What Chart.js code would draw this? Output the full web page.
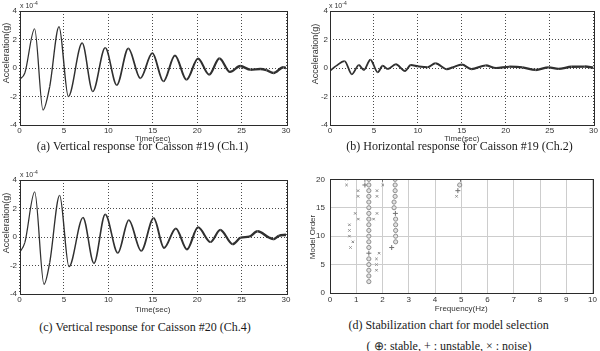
<!DOCTYPE html>
<html>
<head>
<meta charset="utf-8">
<script src="https://cdn.jsdelivr.net/npm/chart.js@4.4.0/dist/chart.umd.min.js"></script>
<style>
  html, body { margin: 0; padding: 0; background: #fff; }
  #wrap { position: relative; width: 600px; height: 351px; overflow: hidden; }
  canvas { position: absolute; }
  .cap { position: absolute; font-family: "Liberation Serif", "Times New Roman", serif; font-size: 12px;
         line-height: 12px; color: #1a1a1a; white-space: nowrap; transform: translateX(-50%); }
  .mult { position: absolute; font-family: "Liberation Sans", Arial, sans-serif; font-size: 7px;
          line-height: 7px; color: #333; white-space: nowrap; }
  .mult span { position: relative; top: -3px; font-size: 5px; }
  .ytl { position: absolute; font-family: "Liberation Sans", Arial, sans-serif; color: #333;
         white-space: nowrap; transform: translate(-50%, -50%) rotate(-90deg); line-height: 1; }
</style>
</head>
<body>
<div id="wrap">
  <canvas id="cA" width="300" height="150" style="left:0;top:0"></canvas>
  <canvas id="cB" width="300" height="150" style="left:300px;top:0"></canvas>
  <canvas id="cC" width="300" height="150" style="left:0;top:169px"></canvas>
  <canvas id="cD" width="300" height="150" style="left:300px;top:168px"></canvas>

  <div class="mult" style="left:20px;top:2px">x 10<span>-4</span></div>
  <div class="mult" style="left:329px;top:2px">x 10<span>-4</span></div>
  <div class="mult" style="left:20px;top:171px">x 10<span>-4</span></div>

  <div class="ytl" style="left:5.5px;top:53px;font-size:9px">Acceleration(g)</div>
  <div class="ytl" style="left:315px;top:54px;font-size:9px">Acceleration(g)</div>
  <div class="ytl" style="left:5.5px;top:223px;font-size:9px">Acceleration(g)</div>
  <div class="ytl" style="left:313px;top:237px;font-size:8px">Model Order</div>

  <div class="cap" style="left:142.5px;top:140px">(a) Vertical response for Caisson #19 (Ch.1)</div>
  <div class="cap" style="left:459.5px;top:140px">(b) Horizontal response for Caisson #19 (Ch.2)</div>
  <div class="cap" style="left:145px;top:321px">(c) Vertical response for Caisson #20 (Ch.4)</div>
  <div class="cap" style="left:448.6px;top:319px">(d) Stabilization chart for model selection</div>
  <div class="cap" style="left:449px;top:340px">( ⊕: stable, + : unstable, × : noise)</div>
</div>
<script>
// acceleration records, values in units of 1e-4 g
const timeA = [0, 0.6, 1.7, 2.65, 3.4, 4.45, 5.5, 7.05, 8.25, 9.65, 10.95, 12.25, 13.6, 14.95, 16.2, 17.5, 18.8, 20.1, 21.35, 22.5, 23.7, 24.85, 26.0, 27.1, 27.8, 28.6, 29.7, 30];
const accelA = [-0.82, -0.35, 2.75, -2.95, -1.3, 2.9, -2.0, 1.75, -1.65, 1.42, -1.2, 1.38, -0.72, 1.05, -0.94, 0.88, -0.83, 0.66, -0.47, 0.68, -0.28, 0.14, -0.12, -0.07, -0.15, -0.35, 0.05, 0.0];

const timeB = [0, 0.7, 1.66, 2.49, 3.28, 3.85, 4.6, 5.43, 6.0, 6.57, 7.5, 8.53, 9.2, 10.0, 11.1, 12.0, 13.3, 14.0, 15.0, 16.1, 17.7, 18.9, 20.4, 21.9, 23.4, 24.9, 26.0, 27.5, 29.0, 30];
const accelB = [-0.2, 0.15, 0.49, -0.44, 0.21, -0.14, 0.58, -0.3, 0.16, -0.07, 0.26, -0.21, 0.21, 0.12, 0.05, 0.33, -0.08, 0.05, 0.24, -0.08, 0.18, 0.0, 0.09, 0.05, -0.14, 0.04, -0.06, 0.09, 0.1, 0.02];

const timeC = [0, 0.6, 1.71, 2.76, 3.4, 4.52, 5.57, 7.15, 8.38, 9.65, 11.07, 12.3, 13.7, 15.1, 16.27, 17.6, 18.85, 20.1, 21.5, 22.6, 24.0, 24.9, 25.85, 26.8, 28.1, 28.6, 29.2, 30];
const accelC = [-1.1, -0.4, 3.16, -3.32, -1.8, 2.92, -2.08, 1.36, -1.85, 1.59, -1.12, 1.19, -0.98, 1.33, -0.77, 0.6, -0.87, 0.68, -0.35, 0.5, -0.5, -0.05, 0.02, 0.4, -0.05, -0.15, 0.08, 0.15];

const timeTicks = [0, 5, 10, 15, 20, 25, 30];
const accelTicks = [-4, -2, 0, 2, 4];

// stabilization chart: frequency (Hz) and model order of each pole
const stableFreq  = [1.48, 1.48, 1.48, 1.48, 1.48, 1.48, 1.48, 1.48, 1.48, 1.48, 1.48, 1.48, 1.48, 1.48, 1.48, 1.48, 1.48, 1.48,
                     2.5, 2.5, 2.5, 2.5, 2.5, 2.44, 2.44, 2.48, 2.48, 2.48, 2.48, 4.94];
const stableOrder = [2, 3, 4, 5, 6, 8, 9, 10, 11, 12, 13, 14, 15, 16, 17, 18, 19, 20,
                     9, 10, 11, 12, 13, 15, 16, 17, 18, 19, 20, 19];
const unstableFreq  = [1.48, 2.49, 2.35, 1.33, 1.33, 2.0, 4.97, 4.87];
const unstableOrder = [7, 14, 8, 20, 19, 20, 20, 18];
const noiseFreq  = [0.63, 0.63, 2.01, 1.07, 1.07, 1.79, 1.79, 0.96, 1.08, 1.79, 1.66, 0.74, 0.74, 0.74, 0.87, 0.78, 1.87, 1.77, 1.77, 1.77, 4.82];
const noiseOrder = [20, 19, 19, 18, 17, 18, 17, 14, 13, 14, 13, 12, 11, 10, 9, 8, 7, 6, 5, 4, 17];
const freqTicks = [0, 1, 2, 3, 4, 5, 6, 7, 8, 9, 10];
const orderTicks = [0, 5, 10, 15, 20];

const sans = '"Liberation Sans", Arial, sans-serif';
const textCol = '#333';

const framePlugin = {
  id: 'frame',
  afterDraw(chart) {
    const { ctx, chartArea: a } = chart;
    ctx.save();
    ctx.strokeStyle = '#2b2b2b';
    ctx.lineWidth = 1;
    ctx.strokeRect(Math.round(a.left) + 0.5, Math.round(a.top) + 0.5,
                   Math.round(a.right - a.left), Math.round(a.bottom - a.top));
    ctx.restore();
  }
};

const pts = (xs, ys) => xs.map((x, i) => ({ x: x, y: ys[i] }));

// p: per panel geometry
function axes(p) {
  return {
    x: {
      type: 'linear', min: p.xTicks[0], max: p.xTicks[p.xTicks.length - 1],
      afterBuildTicks: s => { s.ticks = p.xTicks.map(v => ({ value: v })); },
      afterFit: s => { s.height = 150 - 125; },
      grid: { drawTicks: false, color: p.gridColor, lineWidth: 1 },
      border: { display: false, dash: p.dash },
      ticks: { padding: p.xPad, color: textCol, font: { family: sans, size: 8, lineHeight: 1 }, maxRotation: 0 },
      title: { display: true, text: p.xTitle, color: textCol, padding: { top: 0, bottom: p.xTitlePad },
               font: { family: sans, size: 8, lineHeight: 1 } }
    },
    y: {
      type: 'linear', min: p.yTicks[0], max: p.yTicks[p.yTicks.length - 1],
      afterBuildTicks: s => { s.ticks = p.yTicks.map(v => ({ value: v })); },
      afterFit: s => { s.width = p.left; },
      grid: { drawTicks: false, color: p.gridColor, lineWidth: 1 },
      border: { display: false, dash: p.dash },
      ticks: { padding: p.yPad, color: textCol, font: { family: sans, size: 8, lineHeight: 1 } }
    }
  };
}

function lineChart(id, times, accel, p, widthOf) {
  new Chart(document.getElementById(id), {
    type: 'line',
    data: {
      datasets: [{
        data: pts(times, accel),
        borderColor: '#303030',
        borderWidth: 1.4,
        pointRadius: 0,
        fill: false,
        cubicInterpolationMode: 'monotone',
        segment: { borderWidth: c => widthOf(c.p0.parsed.x) }
      }]
    },
    options: {
      responsive: false, animation: false, devicePixelRatio: 1,
      layout: { padding: { top: p.top, right: 300 - p.right, left: 0, bottom: 0 } },
      plugins: { legend: { display: false }, tooltip: { enabled: false } },
      scales: axes(p)
    },
    plugins: [framePlugin]
  });
}

const dotted = { xTicks: timeTicks, yTicks: accelTicks, gridColor: '#4a4a4a', dash: [1, 2], xTitle: 'Time(sec)' };

lineChart('cA', timeA, accelA,
  Object.assign({}, dotted, { left: 19.5, right: 286, top: 11, xPad: 2, xTitlePad: 7.5, yPad: 2.5 }),
  x => 1.2 + x * 0.045);
lineChart('cB', timeB, accelB,
  Object.assign({}, dotted, { left: 30, right: 295, top: 11, xPad: 2, xTitlePad: 7.5, yPad: 2 }),
  x => 1.7 + x * 0.025);
lineChart('cC', timeC, accelC,
  Object.assign({}, dotted, { left: 19.5, right: 286, top: 11, xPad: 2, xTitlePad: 5.7, yPad: 2.5 }),
  x => 1.2 + x * 0.045);

// stabilization chart
const pD = { xTicks: freqTicks, yTicks: orderTicks, gridColor: '#cdcdcd', dash: [],
             xTitle: 'Frequency(Hz)', left: 30, right: 295, top: 11.3, xPad: 3, xTitlePad: 5, yPad: 5 };
new Chart(document.getElementById('cD'), {
  type: 'scatter',
  data: {
    datasets: [
      { data: pts(stableFreq, stableOrder), pointStyle: 'circle', pointRadius: 2.1,
        borderColor: '#8f8f8f', backgroundColor: '#e2e2e2', borderWidth: 1 },
      { data: pts(stableFreq, stableOrder), pointStyle: 'cross', pointRadius: 2.1,
        borderColor: '#8a8a8a', borderWidth: 1 },
      { data: pts(unstableFreq, unstableOrder), pointStyle: 'cross', pointRadius: 2.5,
        borderColor: '#707070', borderWidth: 1 },
      { data: pts(noiseFreq, noiseOrder), pointStyle: 'crossRot', pointRadius: 1.7,
        borderColor: '#8a8a8a', borderWidth: 1 }
    ]
  },
  options: {
    responsive: false, animation: false, devicePixelRatio: 1,
    layout: { padding: { top: pD.top, right: 300 - pD.right, left: 0, bottom: 0 } },
    plugins: { legend: { display: false }, tooltip: { enabled: false } },
    scales: axes(pD)
  },
  plugins: [framePlugin]
});
</script>
</body>
</html>
